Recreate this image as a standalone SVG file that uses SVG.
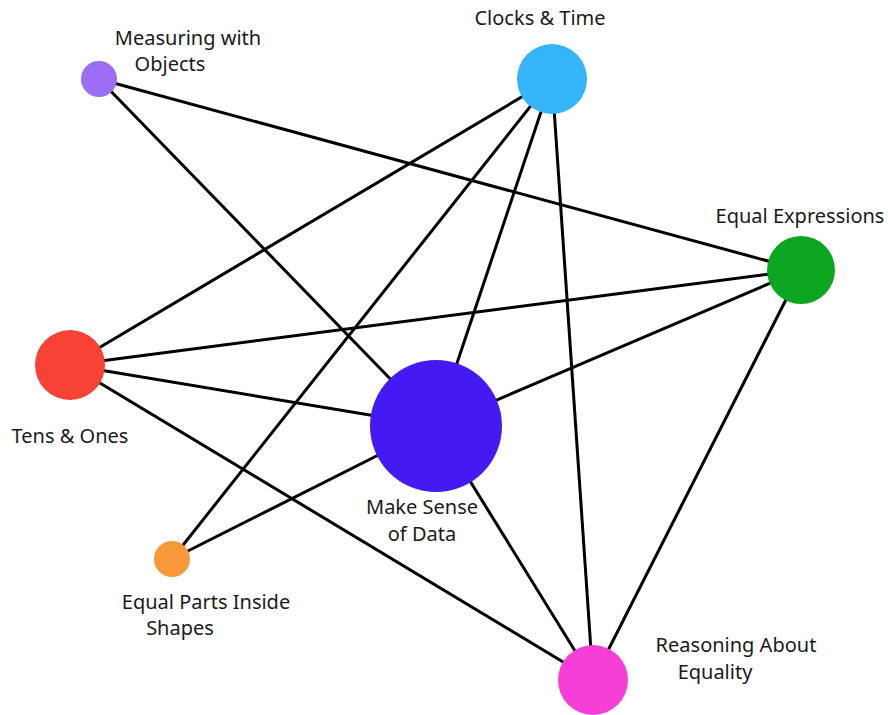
<svg xmlns="http://www.w3.org/2000/svg" width="888" height="715" viewBox="0 0 888 715">
<style>
.e{stroke:#000;stroke-width:3;fill:none}
.t{font-family:"Noto Sans","Open Sans",sans-serif;font-size:20px;fill:#1a1a1a;text-anchor:middle}
</style>
<rect width="888" height="715" fill="#fff"/>
<g id="connectors">
<line class="e" x1="99" y1="79" x2="801" y2="270"/>
<line class="e" x1="99" y1="79" x2="436" y2="426"/>
<line class="e" x1="552" y1="79" x2="70" y2="365"/>
<line class="e" x1="552" y1="79" x2="172" y2="559"/>
<line class="e" x1="552" y1="79" x2="436" y2="426"/>
<line class="e" x1="552" y1="79" x2="593" y2="680"/>
<line class="e" x1="801" y1="270" x2="70" y2="365"/>
<line class="e" x1="801" y1="270" x2="436" y2="426"/>
<line class="e" x1="801" y1="270" x2="593" y2="680"/>
<line class="e" x1="70" y1="365" x2="436" y2="426"/>
<line class="e" x1="70" y1="365" x2="593" y2="680"/>
<line class="e" x1="172" y1="559" x2="436" y2="426"/>
<line class="e" x1="436" y1="426" x2="593" y2="680"/>
</g>
<g id="measuring">
<circle cx="99" cy="79" r="18" fill="#9b6ef3"/>
<text class="t" x="188" y="45">Measuring with</text>
<text class="t" x="170" y="71">Objects</text>
</g>
<g id="clocks">
<circle cx="552" cy="79" r="35" fill="#36b4fa"/>
<text class="t" x="540" y="25">Clocks &amp; Time</text>
</g>
<g id="equal-expressions">
<circle cx="801" cy="270" r="34" fill="#0ba51f"/>
<text class="t" x="800" y="223">Equal Expressions</text>
</g>
<g id="tens-ones">
<circle cx="70" cy="365" r="35" fill="#f94236"/>
<text class="t" x="70" y="443">Tens &amp; Ones</text>
</g>
<g id="make-sense">
<circle cx="436" cy="426" r="66" fill="#4519f2"/>
<text class="t" x="422" y="514">Make Sense</text>
<text class="t" x="422" y="541">of Data</text>
</g>
<g id="equal-parts">
<circle cx="172" cy="559" r="18" fill="#f9983a"/>
<text class="t" x="206" y="609">Equal Parts Inside</text>
<text class="t" x="180" y="635">Shapes</text>
</g>
<g id="reasoning">
<circle cx="593" cy="680" r="35" fill="#f53fd6"/>
<text class="t" x="736" y="652">Reasoning About</text>
<text class="t" x="715" y="679">Equality</text>
</g>
</svg>
